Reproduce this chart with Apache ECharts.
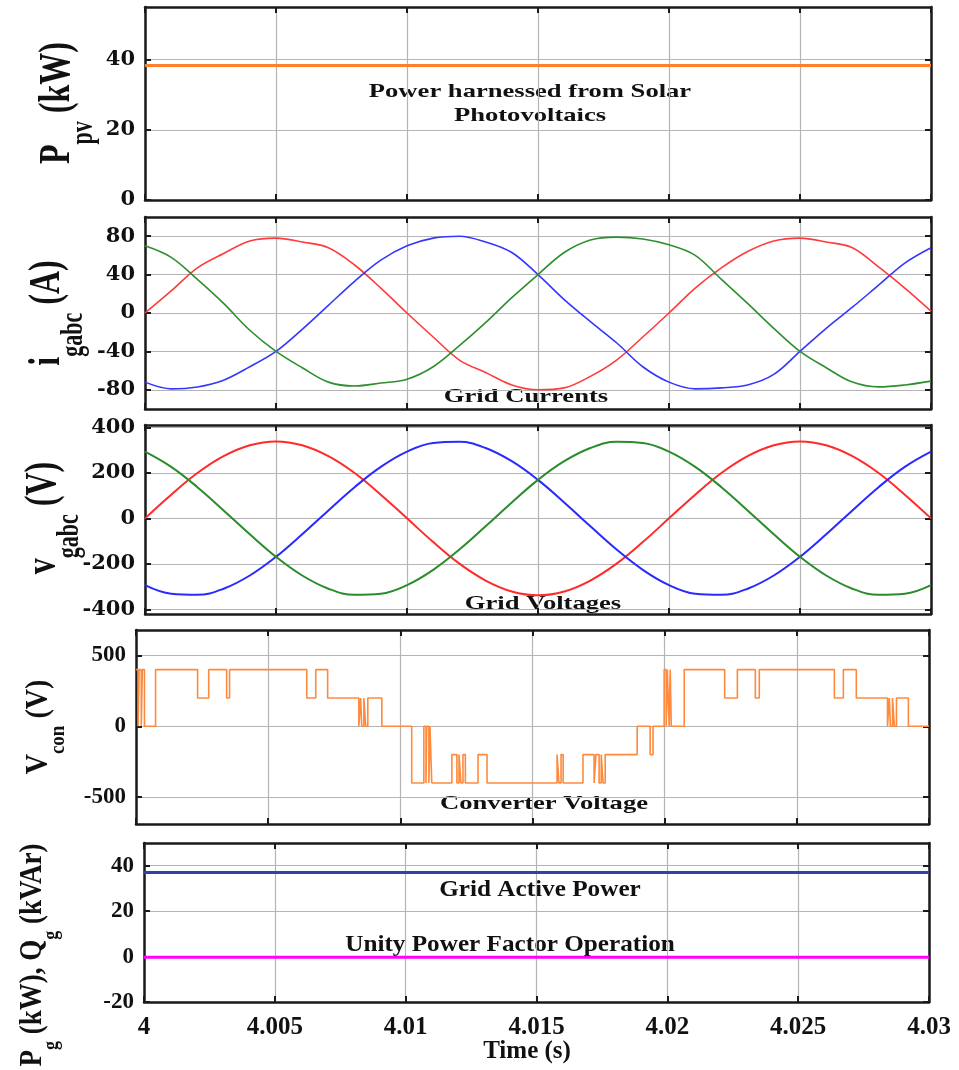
<!DOCTYPE html>
<html>
<head>
<meta charset="utf-8">
<script src="https://cdn.jsdelivr.net/npm/echarts@6/dist/echarts.min.js"></script>
<style>
  html, body { margin: 0; padding: 0; background: #fff; }
  #chart { width: 959px; height: 1070px; }
</style>
</head>
<body>
<div id="chart"></div>
<script>
// sample instants of the sinusoidal traces (s)
const sampleTimes = [4.000, 4.001, 4.002, 4.003, 4.004, 4.005, 4.006, 4.007, 4.008, 4.009,
  4.010, 4.011, 4.012, 4.013, 4.014, 4.015, 4.016, 4.017, 4.018, 4.019,
  4.020, 4.021, 4.022, 4.023, 4.024, 4.025, 4.026, 4.027, 4.028, 4.029, 4.030]

// grid currents (A)
const iaData = [0, 23, 47, 62, 75, 78, 74, 68, 50, 26, 0, -25, -49, -62, -75, -80, -78, -66, -49, -25,
  0, 26, 47, 64, 75, 78, 74, 68, 48, 26, 2]
const ibData = [-72, -79, -77, -70, -56, -40, -17, 8, 33, 55, 70, 78, 80, 74, 63, 40, 14, -9, -31, -56,
  -72, -79, -78, -75, -64, -40, -16, 6, 29, 52, 68]
const icData = [70, 58, 35, 10, -18, -40, -57, -72, -76, -73, -69, -56, -34, -10, 16, 40, 63, 76, 79, 77,
  71, 60, 35, 10, -16, -40, -57, -72, -77, -75, -71]

// grid voltages (V)
const vaData = [0, 104, 199, 273, 321, 338, 321, 273, 199, 104, 0, -104, -199, -273, -321, -338, -321, -273, -199, -104,
  0, 104, 199, 273, 321, 338, 321, 273, 199, 104, 0]
const vbData = [-293, -331, -336, -309, -251, -169, -70, 35, 137, 226, 293, 331, 336, 309, 251, 169, 70, -35, -137, -226,
  -293, -331, -336, -309, -251, -169, -70, 35, 137, 226, 293]
const vcData = [293, 226, 137, 35, -70, -169, -251, -309, -336, -331, -293, -226, -137, -35, 70, 169, 251, 309, 336, 331,
  293, 226, 137, 35, -70, -169, -251, -309, -336, -331, -293]

// converter voltage: switching instants (s) and the level held from each one (V)
const vconTimes = [4.00000, 4.00008, 4.00012, 4.00020, 4.00024, 4.00032, 4.00074, 4.00233, 4.00275, 4.00343,
  4.00354, 4.00646, 4.00680, 4.00725, 4.00843, 4.00850, 4.00854, 4.00862, 4.00869, 4.00877,
  4.00930, 4.01043, 4.01089, 4.01097, 4.01100, 4.01108, 4.01112, 4.01119, 4.01195, 4.01214,
  4.01222, 4.01229, 4.01237, 4.01246, 4.01294, 4.01328, 4.01593, 4.01600, 4.01608, 4.01616,
  4.01691, 4.01733, 4.01740, 4.01752, 4.01760, 4.01767, 4.01775, 4.01896, 4.01945, 4.01956,
  4.01998, 4.02006, 4.02010, 4.02017, 4.02021, 4.02025, 4.02074, 4.02227, 4.02275, 4.02343,
  4.02358, 4.02642, 4.02676, 4.02725, 4.02843, 4.02850, 4.02854, 4.02862, 4.02869, 4.02877,
  4.02922, 4.03000]
const vconLevels = [400, 0, 400, 0, 400, 0, 400, 200, 400, 200,
  400, 200, 400, 200, 0, 200, 0, 200, 0, 200,
  0, -400, 0, -400, 0, -400, 0, -400, -200, -400,
  -200, -400, -200, -400, -200, -400, -200, -400, -200, -400,
  -200, -400, -200, -400, -200, -400, -200, 0, -200, 0,
  400, 0, 400, 0, 400, 0, 400, 200, 400, 200,
  400, 200, 400, 200, 0, 200, 0, 200, 0, 200,
  0, 0]

// constant traces
const spanTimes = [4.0, 4.03]
const pvPower = [38.3, 38.3]      // kW
const gridP = [37, 37]            // kW
const gridQ = [-0.3, -0.3]        // kVAr

// axis ticks
const timeTicks = { min: 4, max: 4.03, interval: 0.005 }
const yTicks = [
  [0, 20, 40],
  [-80, -40, 0, 40, 80],
  [-400, -200, 0, 200, 400],
  [-500, 0, 500],
  [-20, 0, 20, 40]
]
const yRanges = [[0, 55], [-100, 100], [-420, 410], [-690, 680], [-20, 50]]

const serif = 'Liberation Serif'
const panels = [
  { left: 145, top: 7, width: 786, height: 193, font: 'DejaVu Serif', size: 21 },
  { left: 145, top: 217, width: 786, height: 192, font: 'DejaVu Serif', size: 21 },
  { left: 145, top: 425, width: 786, height: 189, font: 'DejaVu Serif', size: 21 },
  { left: 136, top: 630, width: 793, height: 194, font: serif, size: 23 },
  { left: 144, top: 843, width: 785, height: 159, font: serif, size: 23 }
]

const axisLine = { show: true, onZero: false, lineStyle: { color: '#1a1a1a', width: 2.5 } }
const tick = { show: true, inside: true, length: 6, lineStyle: { color: '#1a1a1a', width: 2 } }
const gridLine = { show: true, lineStyle: { color: '#b4b4b4', width: 1.2 } }

const grid = []
const xAxis = []
const yAxis = []
panels.forEach((p, i) => {
  grid.push({ left: p.left, top: p.top, width: p.width, height: p.height, containLabel: false, outerBoundsMode: 'none' })
  const last = i === panels.length - 1
  // bottom + top time axes
  xAxis.push({
    type: 'value', gridIndex: i, position: 'bottom', ...timeTicks,
    axisLine, axisTick: tick, splitLine: gridLine,
    axisLabel: {
      show: last, margin: 13, color: '#111', fontFamily: serif, fontWeight: 'bold', fontSize: 25
    }
  })
  xAxis.push({
    type: 'value', gridIndex: i, position: 'top', ...timeTicks,
    axisLine, axisTick: tick, splitLine: { show: false }, axisLabel: { show: false }
  })
  // left + right value axes
  yAxis.push({
    type: 'value', gridIndex: i, position: 'left', min: yRanges[i][0], max: yRanges[i][1],
    axisLine, splitLine: gridLine,
    axisTick: { ...tick, customValues: yTicks[i] },
    axisLabel: {
      customValues: yTicks[i], margin: 10, color: '#111',
      fontFamily: p.font, fontWeight: 'bold', fontSize: p.size
    }
  })
  yAxis.push({
    type: 'value', gridIndex: i, position: 'right', min: yRanges[i][0], max: yRanges[i][1],
    axisLine, splitLine: { show: false },
    axisTick: { ...tick, customValues: yTicks[i] },
    axisLabel: { show: false, customValues: yTicks[i] }
  })
})

const pairs = (xs, ys) => xs.map((x, k) => [x, ys[k]])
function trace (panel, data, color, width, extra) {
  return Object.assign({
    type: 'line', xAxisIndex: panel * 2, yAxisIndex: panel * 2,
    data, showSymbol: false, symbol: 'none', animation: false,
    lineStyle: { color, width }, itemStyle: { color }
  }, extra || {})
}

const series = [
  trace(0, pairs(spanTimes, pvPower), '#ff7f2a', 3),
  trace(1, pairs(sampleTimes, iaData), '#ff3b3b', 1.6, { smooth: 0.35 }),
  trace(1, pairs(sampleTimes, ibData), '#3636ff', 1.6, { smooth: 0.35 }),
  trace(1, pairs(sampleTimes, icData), '#2e8f2e', 1.6, { smooth: 0.35 }),
  trace(2, pairs(sampleTimes, vaData), '#ff2a2a', 2, { smooth: 0.4 }),
  trace(2, pairs(sampleTimes, vbData), '#2a2aff', 2, { smooth: 0.4 }),
  trace(2, pairs(sampleTimes, vcData), '#2a8c2a', 2, { smooth: 0.4 }),
  trace(3, pairs(vconTimes, vconLevels), '#ff8a3d', 1.6, { step: 'end' }),
  trace(4, pairs(spanTimes, gridP), '#3042a8', 3),
  trace(4, pairs(spanTimes, gridQ), '#ff00ff', 3)
]

// axis titles with subscripts, written bottom-to-top
function titleRich (big, small) {
  return {
    m: { fontFamily: serif, fontWeight: 'bold', fontSize: big, lineHeight: Math.round(big * 1.45), verticalAlign: 'top', fill: '#111' },
    s: { fontFamily: serif, fontWeight: 'bold', fontSize: small, lineHeight: small, verticalAlign: 'bottom', fill: '#111' }
  }
}
function yTitle (x, y, text, big, small, stretch) {
  return {
    type: 'text', x, y, rotation: Math.PI / 2, scaleY: stretch,
    style: { text, rich: titleRich(big, small), align: 'center', verticalAlign: 'middle' }
  }
}
function note (x, y, text, size, stretch) {
  return {
    type: 'text', x, y, scaleX: stretch,
    style: {
      text, align: 'center', verticalAlign: 'middle', fill: '#111',
      font: `bold ${size}px "${serif}"`, lineHeight: 24
    }
  }
}

const graphic = [
  yTitle(67, 103, '{m|P}{s|pv}{m| (kW)}', 32, 22, 1.4),
  yTitle(57, 313, '{m|i}{s|gabc}{m| (A)}', 32, 22, 1.4),
  yTitle(53, 518, '{m|v}{s|gabc}{m| (V)}', 32, 22, 1.4),
  yTitle(46, 727, '{m|V}{s|con}{m| (V)}', 28, 19, 1.15),
  yTitle(40, 955, '{m|P}{s|g}{m| (kW), Q}{s|g}{m| (kVAr)}', 27, 18, 1.15),
  note(530, 104, 'Power harnessed from Solar\nPhotovoltaics', 19, 1.4),
  note(526, 397, 'Grid Currents', 19, 1.4),
  note(543, 604, 'Grid Voltages', 19, 1.4),
  note(544, 804, 'Converter Voltage', 19, 1.4),
  note(540, 890, 'Grid Active Power', 24, 1.05),
  note(510, 945, 'Unity Power Factor Operation', 24, 1.05),
  note(527, 1052, 'Time (s)', 25, 1)
]

const chart = echarts.init(document.getElementById('chart'))
chart.setOption({
  animation: false,
  backgroundColor: '#fff',
  grid, xAxis, yAxis, series, graphic
})
</script>
</body>
</html>
